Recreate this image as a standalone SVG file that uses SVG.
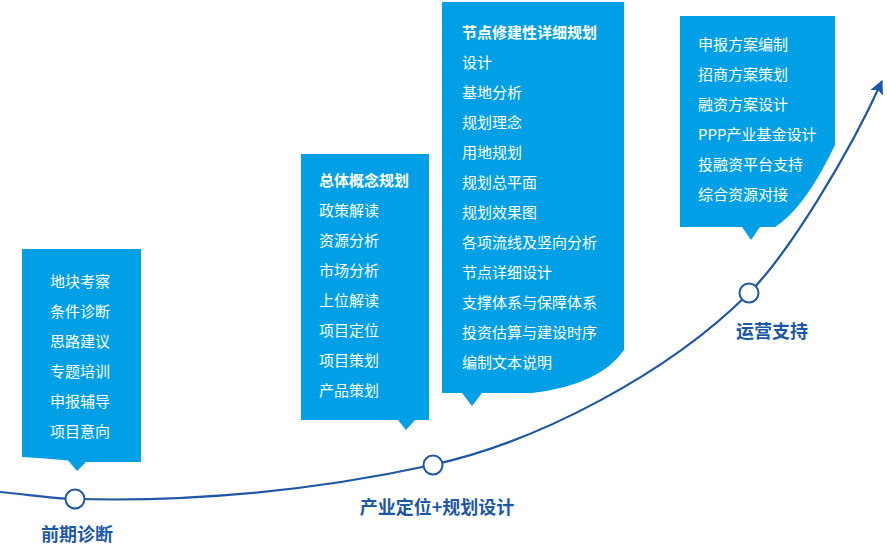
<svg xmlns="http://www.w3.org/2000/svg" width="887" height="554" viewBox="0 0 887 554">
<defs>
<style>
.box{fill:#009fe6}
.t{font-family:"Noto Sans CJK SC","Noto Sans",sans-serif;font-size:15px;fill:#ffffff}
.b{font-weight:bold}
.lbl{font-family:"Noto Sans CJK SC","Noto Sans",sans-serif;font-size:18px;font-weight:bold;fill:#1d58a6;text-anchor:middle}
.node{fill:#ffffff;stroke:#1f57a4;stroke-width:2}
.curve{fill:none;stroke:#1f57a4;stroke-width:2.2}
</style>
<marker id="arr" markerWidth="14" markerHeight="14" viewBox="0 0 14 14" refX="13" refY="7" orient="auto" markerUnits="userSpaceOnUse">
<path d="M0,0 L14,7 L0,14 L3,7 Z" fill="#1f57a4"/>
</marker>
</defs>
<g id="connectors">
<path class="curve" d="M0,492 C25,494 50,498.5 75,499 C194,502 313,491 432,465 C538,442 669,373 749,293 C789,253 849,154 882,81" marker-end="url(#arr)"/>
</g>
<g id="box1">
<path class="box" d="M22,249 H141 V462 H86 L77,471 L68,460.5 Q45,458 22,457 Z"/>
<text class="t" x="50" y="286.5">地块考察</text>
<text class="t" x="50" y="316.5">条件诊断</text>
<text class="t" x="50" y="346.5">思路建议</text>
<text class="t" x="50" y="376.5">专题培训</text>
<text class="t" x="50" y="406.5">申报辅导</text>
<text class="t" x="50" y="436.5">项目意向</text>
</g>
<g id="box2">
<path class="box" d="M301,154 H429 V420 H415 L406,430 L398,420 H301 Z"/>
<text class="t b" x="319" y="185.5">总体概念规划</text>
<text class="t" x="319" y="215.5">政策解读</text>
<text class="t" x="319" y="245.5">资源分析</text>
<text class="t" x="319" y="275.5">市场分析</text>
<text class="t" x="319" y="305.5">上位解读</text>
<text class="t" x="319" y="335.5">项目定位</text>
<text class="t" x="319" y="365.5">项目策划</text>
<text class="t" x="319" y="395.5">产品策划</text>
</g>
<g id="box3">
<path class="box" d="M442,2 H624 V350 Q600,385 532,393 H482 L472,406 L462,393 H442 Z"/>
<text class="t b" x="462" y="37.5">节点修建性详细规划</text>
<text class="t" x="462" y="67.5">设计</text>
<text class="t" x="462" y="97.5">基地分析</text>
<text class="t" x="462" y="127.5">规划理念</text>
<text class="t" x="462" y="157.5">用地规划</text>
<text class="t" x="462" y="187.5">规划总平面</text>
<text class="t" x="462" y="217.5">规划效果图</text>
<text class="t" x="462" y="247.5">各项流线及竖向分析</text>
<text class="t" x="462" y="277.5">节点详细设计</text>
<text class="t" x="462" y="307.5">支撑体系与保障体系</text>
<text class="t" x="462" y="337.5">投资估算与建设时序</text>
<text class="t" x="462" y="367.5">编制文本说明</text>
</g>
<g id="box4">
<path class="box" d="M680,16 H835 V145 Q805,208 775,227 H760 L751,240 L742,227 H680 Z"/>
<text class="t" x="698" y="49.5">申报方案编制</text>
<text class="t" x="698" y="79.5">招商方案策划</text>
<text class="t" x="698" y="109.5">融资方案设计</text>
<text class="t" x="698" y="139.5">PPP产业基金设计</text>
<text class="t" x="698" y="169.5">投融资平台支持</text>
<text class="t" x="698" y="199.5">综合资源对接</text>
</g>
<g id="stage1">
<circle class="node" cx="75" cy="499" r="9.5"/>
<text class="lbl" x="77" y="541">前期诊断</text>
</g>
<g id="stage2">
<circle class="node" cx="433" cy="465" r="9.5"/>
<text class="lbl" x="437" y="514">产业定位+规划设计</text>
</g>
<g id="stage3">
<circle class="node" cx="749" cy="293" r="9.5"/>
<text class="lbl" x="772" y="338">运营支持</text>
</g>
</svg>
